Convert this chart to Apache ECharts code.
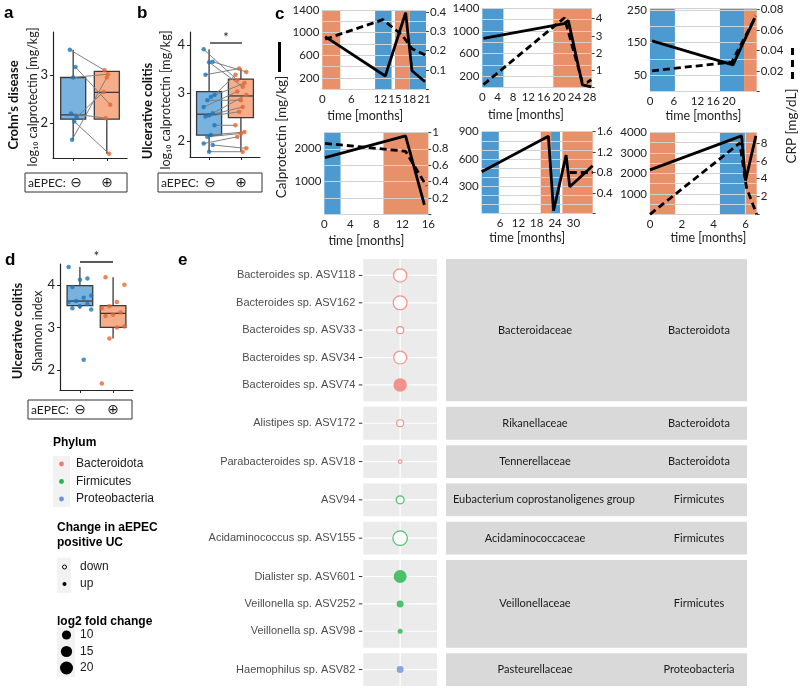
<!DOCTYPE html>
<html><head><meta charset="utf-8">
<script src="https://cdn.jsdelivr.net/npm/echarts@6/dist/echarts.min.js"></script>
<style>html,body{margin:0;padding:0;background:#fff}#c{width:800px;height:688px}</style>
</head><body><div id="c"></div>
<script>
// ================= DATA =================
// Panel a: Crohn's disease, log10 calprotectin (paired samples)
const cdNeg = [3.53, 3.17, 2.95, 2.20, 2.12, 2.03, 1.65];
const cdPos = [3.10, 2.38, 3.02, 2.10, 2.65, 1.36, 2.95];
const cdBoxNeg = [1.65, 2.08, 2.17, 2.95, 3.53];   // min, Q1, median, Q3, max
const cdBoxPos = [1.36, 2.08, 2.64, 3.08, 3.08];
// Panel b: Ulcerative colitis, log10 calprotectin (paired samples)
const ucNeg = [3.91, 3.65, 3.64, 3.38, 2.96, 2.92, 2.85, 2.71, 2.58, 2.54, 2.51, 2.33, 2.13, 2.09, 1.95, 1.92, 1.78];
const ucPos = [3.27, 3.44, 3.13, 3.51, 3.38, 3.21, 2.85, 3.03, 2.96, 2.71, 2.61, 2.33, 2.19, 2.16, 2.09, 1.85, 1.78];
const ucBoxNeg = [1.78, 2.125, 2.56, 3.03, 3.91];
const ucBoxPos = [1.78, 2.49, 2.94, 3.29, 3.51];
// Panel d: Ulcerative colitis, Shannon index
const shNeg = [4.42, 4.15, 4.12, 3.95, 3.75, 3.70, 3.62, 3.60, 3.55, 3.50, 3.45, 3.42, 2.24];
const shPos = [4.18, 4.00, 3.60, 3.50, 3.45, 3.35, 3.30, 3.27, 3.02, 3.00, 2.74, 1.68];
const shBoxNeg = [3.44, 3.51, 3.62, 3.98, 4.42];
const shBoxPos = [2.74, 3.00, 3.33, 3.51, 4.18];
const aepecSymbols = ['\u2296', '\u2295'];

// Panel c: six patients – [month, value]; status periods [start, end, aEPEC status]
const pt1Calpro = [[0.6, 929], [13.0, 235], [17.2, 1352], [18.5, 328], [21.2, 134]];
const pt1Crp = [[0.6, 0.259], [12.5, 0.36], [16.5, 0.28], [18.5, 0.21], [21.4, 0.175]];
const pt1Status = [[0, 3.7, 'pos'], [10.9, 14.3, 'neg'], [15.0, 18.0, 'pos'], [18.0, 21.4, 'neg']];
const pt2Calpro = [[0.3, 870], [21.3, 1128], [22.4, 1188], [26.1, 45], [28.4, 10]];
const pt2Crp = [[0.3, 0.17], [21.4, 4.05], [26.0, 0.35], [27.3, 0.3], [28.4, 0.45]];
const pt2Status = [[0, 5.5, 'neg'], [18.5, 28.5, 'pos']];
const pt3Calpro = [[0.5, 155], [21.0, 81], [26.5, 225]];
const pt3Crp = [[0.5, 0.02], [20.7, 0.0285], [26.8, 0.0735]];
const pt3Status = [[0, 6.3, 'neg'], [17.7, 23.8, 'neg'], [23.8, 27, 'pos']];
const pt4Calpro = [[0.1, 1730], [12.5, 2390], [15.4, 300]];
const pt4Crp = [[0.1, 0.866], [12.5, 0.77], [15.7, 0.35]];
const pt4Status = [[0, 2.5, 'neg'], [9.1, 16, 'pos']];
const pt5Calpro = [[0, 458], [21.8, 851], [23.5, 28], [27.6, 642], [28.8, 292], [36.3, 524]];
const pt5Crp = [[28.8, 0.8], [36.3, 0.8]];
const pt5Status = [[0, 5.6, 'neg'], [19.3, 22.7, 'pos'], [22.7, 25.6, 'neg'], [26.4, 36.3, 'pos']];
const pt6Calpro = [[0, 2167], [5.75, 3828], [6.0, 1641], [6.65, 3828]];
const pt6Crp = [[0, 0], [5.64, 8.0], [6.06, 2.97], [6.7, 0]];
const pt6Status = [[0, 1.57, 'pos'], [4.39, 5.96, 'neg'], [6.0, 6.7, 'pos']];

// Panel e: differentially abundant ASVs
const asvNames = ['Bacteroides sp. ASV118', 'Bacteroides sp. ASV162', 'Bacteroides sp. ASV33', 'Bacteroides sp. ASV34', 'Bacteroides sp. ASV74',
  'Alistipes sp. ASV172', 'Parabacteroides sp. ASV18', 'ASV94', 'Acidaminococcus sp. ASV155',
  'Dialister sp. ASV601', 'Veillonella sp. ASV252', 'Veillonella sp. ASV98', 'Haemophilus sp. ASV82'];
const asvFamily = ['Bacteroidaceae', 'Bacteroidaceae', 'Bacteroidaceae', 'Bacteroidaceae', 'Bacteroidaceae',
  'Rikanellaceae', 'Tennerellaceae', 'Eubacterium coprostanoligenes group', 'Acidaminococcaceae',
  'Veillonellaceae', 'Veillonellaceae', 'Veillonellaceae', 'Pasteurellaceae'];
const asvPhylum = ['Bacteroidota', 'Bacteroidota', 'Bacteroidota', 'Bacteroidota', 'Bacteroidota',
  'Bacteroidota', 'Bacteroidota', 'Firmicutes', 'Firmicutes', 'Firmicutes', 'Firmicutes', 'Firmicutes', 'Proteobacteria'];
const asvChange = ['down', 'down', 'down', 'down', 'up', 'down', 'down', 'down', 'down', 'up', 'up', 'up', 'up'];
const asvLog2FC = [21, 23, 5.8, 20, 21.5, 5.8, 1.5, 7.6, 25, 20, 5.8, 3.0, 5.8];
const families = ['Bacteroidaceae', 'Rikanellaceae', 'Tennerellaceae', 'Eubacterium coprostanoligenes group', 'Acidaminococcaceae', 'Veillonellaceae', 'Pasteurellaceae'];
const familyPhylum = ['Bacteroidota', 'Bacteroidota', 'Bacteroidota', 'Firmicutes', 'Firmicutes', 'Firmicutes', 'Proteobacteria'];
const phylumNames = ['Bacteroidota', 'Firmicutes', 'Proteobacteria'];
const changeLabels = ['down', 'up'];
const sizeBreaks = [10, 15, 20];

// ================= STYLE / LAYOUT =================
const SANS = "'Liberation Sans', Arial, sans-serif";
const MYR = "Lato, 'DejaVu Sans', sans-serif";
const NARROW = "'Liberation Sans Narrow', Lato, sans-serif";
const statusColor = { pos: '#E8906A', neg: '#4C9AD0' };
const phylumColor = { Bacteroidota: '#F47A72', Firmicutes: '#22B547', Proteobacteria: '#6D90D8' };
const BLUE_FILL = '#78B3DF', ORANGE_FILL = '#F6AD8A', BLUE_PT = '#1F74BA', ORANGE_PT = '#E9652B';

const option = { animation: false, backgroundColor: '#fff', grid: [], xAxis: [], yAxis: [], series: [], graphic: [] };
function addGrid(l, t, w, h) { option.grid.push({ left: l, top: t, width: w, height: h }); return option.grid.length - 1; }
function addX(c) { option.xAxis.push(c); return option.xAxis.length - 1; }
function addY(c) { option.yAxis.push(c); return option.yAxis.length - 1; }
function T(x, y, text, o = {}) {
  option.graphic.push({ type: 'text', x, y, rotation: o.rot || 0, silent: true, z: 10,
    style: { text, fill: o.color || '#222', fontSize: o.size || 12, fontFamily: o.family || MYR,
      fontWeight: o.weight || 'normal', align: o.align || 'left', verticalAlign: o.va || 'middle' } });
}
function L(x1, y1, x2, y2, o = {}) {
  option.graphic.push({ type: 'line', silent: true, z: 10, shape: { x1, y1, x2, y2 },
    style: { stroke: o.color || '#222', lineWidth: o.w || 1, lineDash: o.dash || null } });
}
function R(x, y, w, h, o = {}) {
  option.graphic.push({ type: 'rect', silent: true, z: 9, shape: { x, y, width: w, height: h },
    style: { fill: o.fill || 'none', stroke: o.stroke || null, lineWidth: o.w || 1 } });
}
function Cir(cx, cy, r, o = {}) {
  option.graphic.push({ type: 'circle', silent: true, z: 10, shape: { cx, cy, r },
    style: { fill: o.fill || '#000', stroke: o.stroke || null, lineWidth: o.w || 1 } });
}
const jitBase = i => (((i * 5) % 7) - 3) / 3;   // deterministic spread in [-1, 1]

// ---------- box panels (a, b, d) ----------
function boxPanel(P) {
  const jit = i => jitBase(i) * P.spread;
  const g = addGrid(P.l, P.t, P.w, P.h);
  const xi = addX({ type: 'value', gridIndex: g, min: 0.4, max: 2.6,
    axisLine: { show: true, onZero: false, lineStyle: { color: '#222', width: 1.2 } },
    axisTick: { show: true, customValues: [1, 2], length: 3, lineStyle: { color: '#222' } },
    axisLabel: { show: false }, splitLine: { show: false } });
  const yi = addY({ type: 'value', gridIndex: g, min: P.ymin, max: P.ymax,
    axisLine: { show: true, onZero: false, lineStyle: { color: '#222', width: 1.2 } },
    axisTick: { show: true, customValues: P.ticks, length: 3, lineStyle: { color: '#222' } },
    axisLabel: { customValues: P.ticks, fontSize: 13, color: '#222', fontFamily: MYR, margin: 5 },
    splitLine: { show: false } });
  const fills = [BLUE_FILL, ORANGE_FILL];
  option.series.push({ type: 'custom', xAxisIndex: xi, yAxisIndex: yi, z: 2, silent: true,
    data: [[1, ...P.boxNeg], [2, ...P.boxPos]],
    renderItem(params, api) {
      const x = api.value(0);
      const c = k => api.coord([x, api.value(k)]);
      const lo = c(1), q1 = c(2), md = c(3), q3 = c(4), hi = c(5);
      const hw = P.hw, st = { stroke: '#3a3a3a', lineWidth: 1.3 };
      return { type: 'group', children: [
        { type: 'line', shape: { x1: lo[0], y1: lo[1], x2: q1[0], y2: q1[1] }, style: st },
        { type: 'line', shape: { x1: q3[0], y1: q3[1], x2: hi[0], y2: hi[1] }, style: st },
        { type: 'rect', shape: { x: q3[0] - hw, y: q3[1], width: 2 * hw, height: q1[1] - q3[1] },
          style: { fill: fills[params.dataIndex], stroke: '#3a3a3a', lineWidth: 1.3 } },
        { type: 'line', shape: { x1: md[0] - hw, y1: md[1], x2: md[0] + hw, y2: md[1] }, style: st }
      ] };
    } });
  if (P.paired) {
    option.series.push({ type: 'custom', xAxisIndex: xi, yAxisIndex: yi, z: 3, silent: true,
      data: P.neg.map((v, i) => [v, P.pos[i]]),
      renderItem(params, api) {
        const i = params.dataIndex;
        const a = api.coord([1 + jit(i), api.value(0)]), b = api.coord([2 + jit(i + 3), api.value(1)]);
        return { type: 'line', shape: { x1: a[0], y1: a[1], x2: b[0], y2: b[1] }, style: { stroke: '#808080', lineWidth: 1 } };
      } });
  }
  option.series.push({ type: 'scatter', xAxisIndex: xi, yAxisIndex: yi, z: 4, symbolSize: 4.5, silent: true,
    itemStyle: { color: BLUE_PT }, data: P.neg.map((v, i) => [1 + jit(i), v]) });
  option.series.push({ type: 'scatter', xAxisIndex: xi, yAxisIndex: yi, z: 4, symbolSize: 4.5, silent: true,
    itemStyle: { color: ORANGE_PT }, data: P.pos.map((v, i) => [2 + jit(i + 3), v]) });
}
boxPanel({ l: 53, t: 32, w: 74, h: 126, ymin: 1.27, ymax: 3.9, ticks: [2, 3], neg: cdNeg, pos: cdPos, boxNeg: cdBoxNeg, boxPos: cdBoxPos, paired: true, hw: 12.5, spread: 0.1 });
boxPanel({ l: 190, t: 32, w: 70, h: 125, ymin: 1.67, ymax: 4.27, ticks: [2, 3, 4], neg: ucNeg, pos: ucPos, boxNeg: ucBoxNeg, boxPos: ucBoxPos, paired: true, hw: 12.5, spread: 0.17 });
boxPanel({ l: 60, t: 264, w: 73, h: 126, ymin: 1.53, ymax: 4.49, ticks: [2, 3, 4], neg: shNeg, pos: shPos, boxNeg: shBoxNeg, boxPos: shBoxPos, paired: false, hw: 12.8, spread: 0.34 });

// titles for box panels
T(14, 105, "Crohn's disease", { rot: Math.PI / 2, align: 'center', weight: 'bold', size: 13, color: '#111' });
T(33, 97, 'log\u2081\u2080 calprotectin [mg/kg]', { rot: Math.PI / 2, align: 'center', size: 12.5 });
T(148, 111, 'Ulcerative colitis', { rot: Math.PI / 2, align: 'center', weight: 'bold', size: 13, color: '#111' });
T(166, 100, 'log\u2081\u2080 calprotectin [mg/kg]', { rot: Math.PI / 2, align: 'center', size: 12.5 });
T(18, 331, 'Ulcerative colitis', { rot: Math.PI / 2, align: 'center', weight: 'bold', size: 13, color: '#111' });
T(38, 331, 'Shannon index', { rot: Math.PI / 2, align: 'center', size: 12.5 });
// significance bars
L(210, 43, 242, 43, { w: 1.3 }); T(226, 38, '*', { align: 'center', size: 13 });
L(80, 262, 113, 262, { w: 1.3 }); T(96.5, 257, '*', { align: 'center', size: 13 });
// aEPEC boxes
function aepecBox(x, y, w, c1, c2) {
  R(x, y, w, 19, { stroke: '#333', w: 1 });
  T(x + 3, y + 10, 'aEPEC:', { size: 12, color: '#222' });
  T(c1, y + 10, aepecSymbols[0], { size: 14, align: 'center', family: "'DejaVu Sans', sans-serif" });
  T(c2, y + 10, aepecSymbols[1], { size: 14, align: 'center', family: "'DejaVu Sans', sans-serif" });
}
aepecBox(25, 173, 102, 76, 107);
aepecBox(158, 173, 104, 210, 241);
aepecBox(28, 400, 104, 80, 113);

// ---------- panel c ----------
const cPanels = [
  { box: [322.3, 10, 103.7, 79.3], xmax: 21.4, xint: 3, xlab: [0, 6, 12, 15, 18, 21], lmax: 1400, lint: 200, llab: [200, 600, 1000, 1400], rmax: 0.41, rint: 0.1, cal: pt1Calpro, crp: pt1Crp, st: pt1Status, gap: 20, pad: [0, 18, 0, 0] },
  { box: [482.3, 8.3, 109.4, 79.2], xmax: 28.5, xint: 4, xlab: [0, 4, 8, 12, 16, 20, 24, 28], lmax: 1400, lint: 200, llab: [200, 600, 1000, 1400], rmax: 4.6, rint: 1, cal: pt2Calpro, crp: pt2Crp, st: pt2Status, gap: 21, pad: [0, 22, 0, 0] },
  { box: [650, 8.3, 106.7, 83], xmax: 27, xint: 2, xlab: [0, 6, 12, 16, 20], lmax: 255, lint: 50, llab: [50, 150, 250], rmax: 0.081, rint: 0.02, cal: pt3Calpro, crp: pt3Crp, st: pt3Status, gap: 18, pad: [0, 0, 0, 0] },
  { box: [324.3, 132.3, 104, 82.4], xmax: 16, xint: 4, xlab: [0, 4, 8, 12, 16], lmax: 2500, lint: 500, llab: [1000, 2000], rmax: 1, rint: 0.2, cal: pt4Calpro, crp: pt4Crp, st: pt4Status, gap: 20, pad: [0, 20, 0, 0] },
  { box: [481.7, 131.7, 111, 81.6], xmax: 36.3, xint: 6, xlab: [6, 12, 18, 24, 30], lmax: 900, lint: 100, llab: [300, 600, 900], rmax: 1.6, rint: 0.4, cal: pt5Calpro, crp: pt5Crp, st: pt5Status, gap: 18, pad: [0, 20, 0, 0] },
  { box: [650, 132.3, 106.7, 82], xmax: 6.7, xint: 2, xlab: [0, 2, 4, 6], lmax: 4000, lint: 500, llab: [1000, 2000, 3000, 4000], rmax: 9.2, rint: 2, cal: pt6Calpro, crp: pt6Crp, st: pt6Status, gap: 15, pad: [0, 0, 0, 10] }
];
const tickFont = { fontSize: 11.5, color: '#222', fontFamily: NARROW };
cPanels.forEach(P => {
  const g = addGrid(...P.box);
  const xi = addX({ type: 'value', gridIndex: g, min: 0, max: P.xmax, interval: P.xint,
    axisLine: { show: false }, axisTick: { show: false }, splitLine: { show: false },
    axisLabel: Object.assign({ margin: 4, formatter: v => P.xlab.includes(Math.round(v * 100) / 100) ? String(Math.round(v * 100) / 100) : '' }, tickFont),
    name: 'time [months]', nameLocation: 'middle', nameGap: P.gap,
    nameTextStyle: { fontSize: 12.5, color: '#222', fontFamily: MYR, padding: P.pad, verticalAlign: 'top' } });
  const yl = addY({ type: 'value', gridIndex: g, position: 'left', min: 0, max: P.lmax, interval: P.lint,
    axisLine: { show: false }, axisTick: { show: false },
    splitLine: { show: true, lineStyle: { color: '#d2d2d2', width: 1 } },
    axisLabel: Object.assign({ margin: 3, formatter: v => P.llab.includes(Math.round(v)) ? String(Math.round(v)) : '' }, tickFont) });
  const yr = addY({ type: 'value', gridIndex: g, position: 'right', min: 0, max: P.rmax, interval: P.rint,
    axisLine: { show: false }, axisTick: { show: true, length: 3, lineStyle: { color: '#444' } }, splitLine: { show: false },
    axisLabel: Object.assign({ margin: 4, formatter: v => v === 0 ? '' : String(parseFloat(v.toFixed(3))) }, tickFont) });
  option.series.push({ type: 'custom', xAxisIndex: xi, yAxisIndex: yl, z: -1, silent: true,
    data: P.st.map(s => [s[0], s[1]]),
    renderItem(params, api) {
      const cs = params.coordSys;
      const a = api.coord([api.value(0), 0]), b = api.coord([api.value(1), 0]);
      return { type: 'rect', shape: { x: a[0], y: cs.y, width: b[0] - a[0], height: cs.height },
        style: { fill: statusColor[P.st[params.dataIndex][2]] } };
    } });
  option.series.push({ type: 'line', xAxisIndex: xi, yAxisIndex: yl, z: 3, silent: true, showSymbol: false,
    lineStyle: { color: '#000', width: 2.8 }, data: P.cal });
  option.series.push({ type: 'line', xAxisIndex: xi, yAxisIndex: yr, z: 3, silent: true, showSymbol: false,
    lineStyle: { color: '#000', width: 2.8, type: [7, 4] }, data: P.crp });
});
// c axis titles
L(279.5, 42, 279.5, 72, { w: 3, color: '#000' });
T(282, 137, 'Calprotectin [mg/kg]', { rot: Math.PI / 2, align: 'center', size: 13.5 });
L(792.5, 48, 792.5, 83, { w: 3, color: '#000', dash: [7, 5] });
T(792, 126, 'CRP [mg/dL]', { rot: Math.PI / 2, align: 'center', size: 13.5 });

// panel letters
T(4, 13, 'a', { weight: 'bold', size: 17, family: SANS, color: '#000' });
T(137, 13, 'b', { weight: 'bold', size: 17, family: SANS, color: '#000' });
T(275, 14, 'c', { weight: 'bold', size: 17, family: SANS, color: '#000' });
T(5, 260, 'd', { weight: 'bold', size: 17, family: SANS, color: '#000' });
T(178, 260, 'e', { weight: 'bold', size: 17, family: SANS, color: '#000' });

// ---------- panel e ----------
const rowY = []; const facetSpan = [];
let u = 0;
families.forEach(f => {
  const rows = asvFamily.map((ff, i) => ff === f ? i : -1).filter(i => i >= 0);
  const start = u;
  rows.forEach((r, k) => { rowY[r] = start + 0.6 + k; });
  u = start + rows.length - 1 + 1.2;
  facetSpan.push([start, u]);
  u += 0.2;
});
const yTotal = u - 0.2;
const sizeFn = v => 2.9 * Math.sqrt(v);
const gDot = addGrid(363.3, 259, 73.7, 427);
const xDot = addX({ type: 'value', gridIndex: gDot, min: 0, max: 2, show: false });
const yDot = addY({ type: 'value', gridIndex: gDot, min: 0, max: yTotal, inverse: true, show: false });
option.series.push({ type: 'custom', xAxisIndex: xDot, yAxisIndex: yDot, z: 1, silent: true,
  data: facetSpan.map(s => [0, s[0], s[1]]),
  renderItem(params, api) {
    const a = api.coord([0, api.value(1)]), b = api.coord([2, api.value(2)]), m = api.coord([1, 0]);
    return { type: 'group', children: [
      { type: 'rect', shape: { x: a[0], y: a[1], width: b[0] - a[0], height: b[1] - a[1] }, style: { fill: '#EBEBEB' } },
      { type: 'line', shape: { x1: m[0], y1: a[1], x2: m[0], y2: b[1] }, style: { stroke: '#fff', lineWidth: 1.2 } }
    ] };
  } });
option.series.push({ type: 'custom', xAxisIndex: xDot, yAxisIndex: yDot, z: 1, silent: true,
  data: rowY.map(y => [0, y]),
  renderItem(params, api) {
    const a = api.coord([0, api.value(1)]), b = api.coord([2, api.value(1)]);
    return { type: 'group', children: [
      { type: 'line', shape: { x1: a[0], y1: a[1], x2: b[0], y2: b[1] }, style: { stroke: '#fff', lineWidth: 1.2 } },
      { type: 'line', shape: { x1: a[0] - 4.5, y1: a[1], x2: a[0] - 1, y2: a[1] }, style: { stroke: '#333', lineWidth: 1 } },
      { type: 'text', x: a[0] - 8, y: a[1], style: { text: asvNames[params.dataIndex], fill: '#4D4D4D', fontSize: 11, fontFamily: SANS, align: 'right', verticalAlign: 'middle' } }
    ] };
  } });
option.series.push({ type: 'scatter', xAxisIndex: xDot, yAxisIndex: yDot, z: 4, silent: true,
  data: asvNames.map((n, i) => {
    const col = phylumColor[asvPhylum[i]];
    return { value: [1, rowY[i], asvLog2FC[i]], symbolSize: sizeFn(asvLog2FC[i]),
      itemStyle: asvChange[i] === 'up' ? { color: col, borderWidth: 0 } : { color: '#fff', borderColor: col, borderWidth: 1.2 } };
  }) });
// taxonomy table
const mctx = document.createElement('canvas').getContext('2d');
mctx.font = '11px ' + MYR;
const gTab = addGrid(446, 259, 301, 427);
const xTab = addX({ type: 'value', gridIndex: gTab, min: 0, max: 1, show: false });
const yTab = addY({ type: 'value', gridIndex: gTab, min: 0, max: yTotal, inverse: true, show: false });
option.series.push({ type: 'custom', xAxisIndex: xTab, yAxisIndex: yTab, z: 1, silent: true,
  data: facetSpan.map(s => [0, s[0], s[1]]),
  renderItem(params, api) {
    const a = api.coord([0, api.value(1)]), b = api.coord([1, api.value(2)]);
    const k = params.dataIndex, fam = families[k];
    const w = mctx.measureText(fam).width;
    const cx = Math.max(a[0] + 89, a[0] + 7 + w / 2);
    const cy = (a[1] + b[1]) / 2;
    return { type: 'group', children: [
      { type: 'rect', shape: { x: a[0], y: a[1], width: b[0] - a[0], height: b[1] - a[1] }, style: { fill: '#D9D9D9' } },
      { type: 'text', x: cx, y: cy, style: { text: fam, fill: '#1a1a1a', fontSize: 11, fontFamily: MYR, align: 'center', verticalAlign: 'middle' } },
      { type: 'text', x: a[0] + 253, y: cy, style: { text: familyPhylum[k], fill: '#1a1a1a', fontSize: 11, fontFamily: MYR, align: 'center', verticalAlign: 'middle' } }
    ] };
  } });

// legends for panel e
T(53, 443, 'Phylum', { weight: 'bold', size: 12, family: SANS, color: '#000' });
R(53, 456, 17, 51, { fill: '#F2F2F2' });
phylumNames.forEach((p, i) => {
  const y = 464 + i * 17.5;
  Cir(61.5, y, 2.4, { fill: phylumColor[p] });
  T(76, y, p, { size: 12, family: SANS, color: '#1a1a1a' });
});
T(57, 528, 'Change in aEPEC', { weight: 'bold', size: 12, family: SANS, color: '#000' });
T(57, 543, 'positive UC', { weight: 'bold', size: 12, family: SANS, color: '#000' });
R(57, 558, 14, 35, { fill: '#F2F2F2' });
changeLabels.forEach((c, i) => {
  const y = 567 + i * 17;
  if (c === 'down') Cir(64.5, y, 2, { fill: '#fff', stroke: '#000', w: 1 }); else Cir(64.5, y, 2, { fill: '#000' });
  T(80, y, c, { size: 12, family: SANS, color: '#1a1a1a' });
});
T(57, 622, 'log2 fold change', { weight: 'bold', size: 12, family: SANS, color: '#000' });
R(57, 627, 18, 50, { fill: '#F2F2F2' });
sizeBreaks.forEach((s, i) => {
  const y = 635 + i * 16.5;
  Cir(66.5, y, sizeFn(s) / 2, { fill: '#000' });
  T(80, y, String(s), { size: 12, family: SANS, color: '#1a1a1a' });
});

const chart = echarts.init(document.getElementById('c'), null, { renderer: 'canvas' });
chart.setOption(option);
</script></body></html>
